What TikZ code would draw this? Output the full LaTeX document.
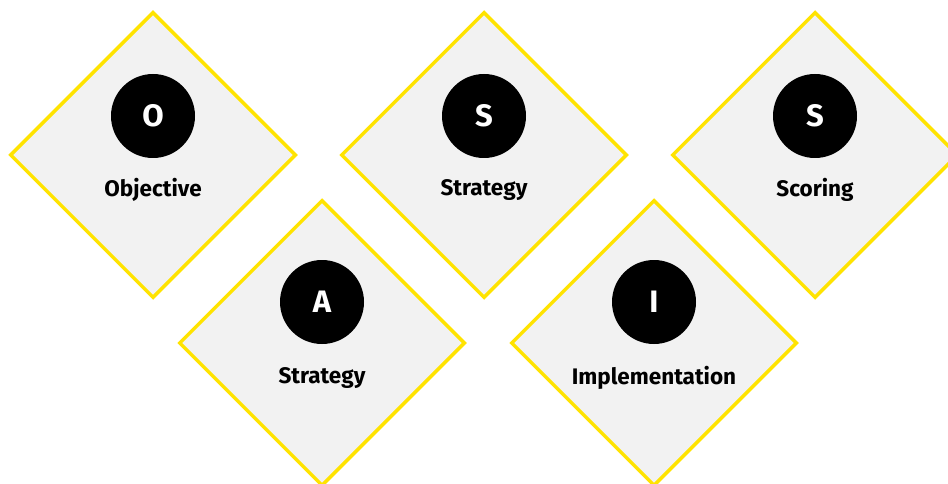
\documentclass[tikz,border=0pt]{standalone}
\usepackage{fontspec}
\setmainfont{Fira Sans}
\usetikzlibrary{shapes.geometric}
\definecolor{frameyellow}{HTML}{FFE300}
\definecolor{tilegray}{HTML}{F2F2F2}
\begin{document}
\begin{tikzpicture}[x=1pt, y=-1pt,
    tile/.style={diamond, aspect=1, draw=frameyellow, fill=tilegray, line width=3.5pt, inner sep=0pt, minimum size=286pt},
    badge/.style={circle, fill=black, inner sep=0pt, minimum size=84pt, text=white, font=\bfseries\fontsize{31}{31}\selectfont},
    caption/.style={font=\bfseries\fontsize{22.5}{24}\selectfont, text=black}]
    \useasboundingbox (0,0) rectangle (948,484);
    % top row
    \node[tile] (t1) at (153,155) {};
    \node[tile] (t2) at (484,155) {};
    \node[tile] (t3) at (815,155) {};
    % bottom row
    \node[tile] (t4) at (322,343) {};
    \node[tile] (t5) at (654,343) {};
    \node[badge] (b1) at (153,116) {O};
    \node[badge] (b2) at (484,116) {S};
    \node[badge] (b3) at (815,116) {S};
    \node[badge] (b4) at (322,302) {A};
    \node[badge] (b5) at (654,302) {I};
    \node[caption] (c1) at (153,190) {Objective};
    \node[caption] (c2) at (484,190) {Strategy};
    \node[caption] (c3) at (815,190) {Scoring};
    \node[caption] (c4) at (322,378) {Strategy};
    \node[caption] (c5) at (654,378) {Implementation};
\end{tikzpicture}
\end{document}
